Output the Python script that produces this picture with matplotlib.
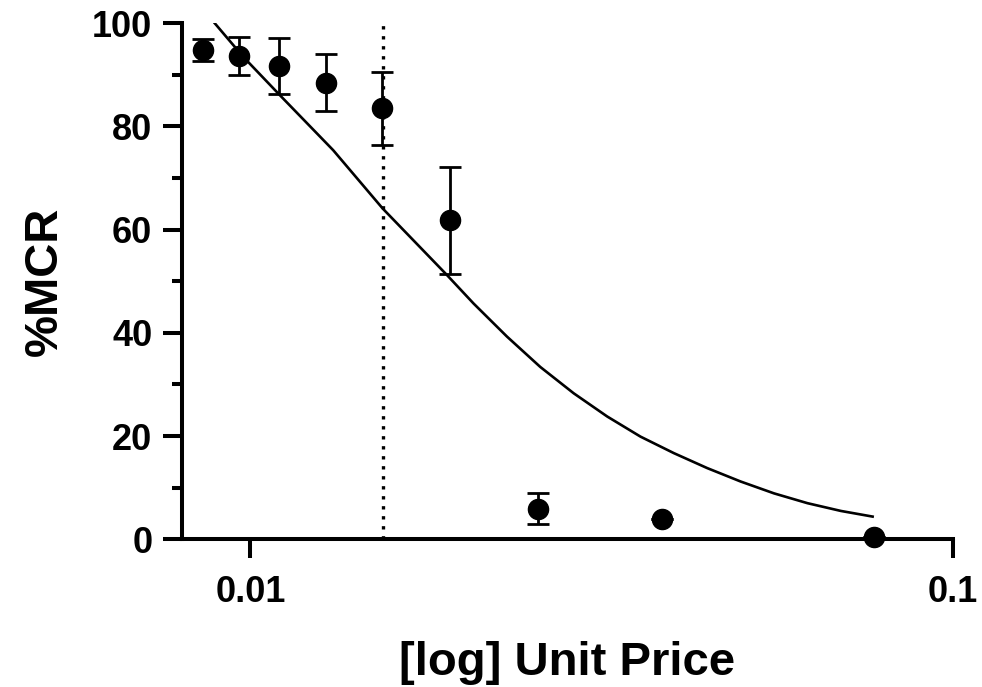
"""Demand curve: %MCR against log unit price."""

from __future__ import annotations

import os

os.environ.setdefault("MPLBACKEND", "Agg")

import matplotlib.pyplot as plt
from matplotlib.ticker import FixedLocator, NullFormatter, NullLocator


UNIT_PRICE = [0.00856, 0.00963, 0.01099, 0.01281, 0.01541, 0.01925, 0.02567, 0.03856, 0.0771]
MCR_MEAN = [94.8, 93.7, 91.7, 88.5, 83.5, 61.8, 5.9, 3.9, 0.5]
MCR_ERR = [2.1, 3.7, 5.4, 5.5, 7.1, 10.4, 3.0, 0.0, 0.0]

# fitted demand curve
FIT_PRICE = [0.00890, 0.00977, 0.01101, 0.01312, 0.01543, 0.01905, 0.02078, 0.02318,
             0.02586, 0.02885, 0.03220, 0.03591, 0.04006, 0.04469, 0.04986, 0.05563,
             0.06207, 0.06923, 0.07684]
FIT_MCR = [100.0, 93.5, 86.1, 75.4, 64.1, 51.2, 45.7, 39.3, 33.4, 28.3, 23.8, 19.9,
           16.7, 13.8, 11.2, 8.9, 7.0, 5.5, 4.4]

PMAX_PRICE = 0.01546

X_TICKS = [0.01, 0.1]
X_TICK_LABELS = ["0.01", "0.1"]
Y_MAJOR = [0, 20, 40, 60, 80, 100]
Y_MINOR = [10, 30, 50, 70, 90]

FONT = ["Liberation Sans", "DejaVu Sans"]


def main() -> None:
  plt.rcParams["font.family"] = FONT
  plt.rcParams["font.weight"] = "bold"

  fig = plt.figure(figsize=(9.82, 6.87), dpi=100)
  ax = fig.add_axes([181.5 / 982, (687 - 539.3) / 687, (953 - 181.5) / 982, 516 / 687])

  ax.plot([PMAX_PRICE, PMAX_PRICE], [0, 100], color="black", linewidth=2.4,
          linestyle=(0, (1, 2.0)), zorder=1)
  ax.plot(FIT_PRICE, FIT_MCR, color="black", linewidth=1.9, zorder=2,
          solid_joinstyle="round")
  ax.errorbar(
    UNIT_PRICE,
    MCR_MEAN,
    yerr=MCR_ERR,
    fmt="o",
    color="black",
    markersize=14.5,
    elinewidth=2.0,
    capsize=8,
    capthick=2.0,
    clip_on=False,
    zorder=3,
  )

  ax.set_xscale("log")
  ax.set_xlim(0.00798, 0.1)
  ax.set_ylim(0, 100)
  ax.xaxis.set_major_locator(FixedLocator(X_TICKS))
  ax.xaxis.set_minor_locator(NullLocator())
  ax.xaxis.set_minor_formatter(NullFormatter())
  ax.set_xticklabels(X_TICK_LABELS)
  ax.yaxis.set_major_locator(FixedLocator(Y_MAJOR))
  ax.yaxis.set_minor_locator(FixedLocator(Y_MINOR))

  for side in ("top", "right"):
    ax.spines[side].set_visible(False)
  for side in ("left", "bottom"):
    ax.spines[side].set_linewidth(2.9)
  ax.tick_params(axis="both", which="major", length=14, width=2.9,
                 labelsize=26, color="black")
  ax.tick_params(axis="y", which="minor", length=7, width=2.9)
  ax.tick_params(axis="x", which="major", pad=12)
  ax.tick_params(axis="y", which="major", pad=7)
  for label in ax.get_xticklabels() + ax.get_yticklabels():
    label.set_fontweight("bold")

  ax.set_xlabel("[log] Unit Price", fontsize=34, fontweight="bold", labelpad=22)
  ax.set_ylabel("%MCR", fontsize=34, fontweight="bold", labelpad=18)

  fig.savefig("out.png", dpi=100)
  plt.close(fig)


if __name__ == "__main__":
  main()
